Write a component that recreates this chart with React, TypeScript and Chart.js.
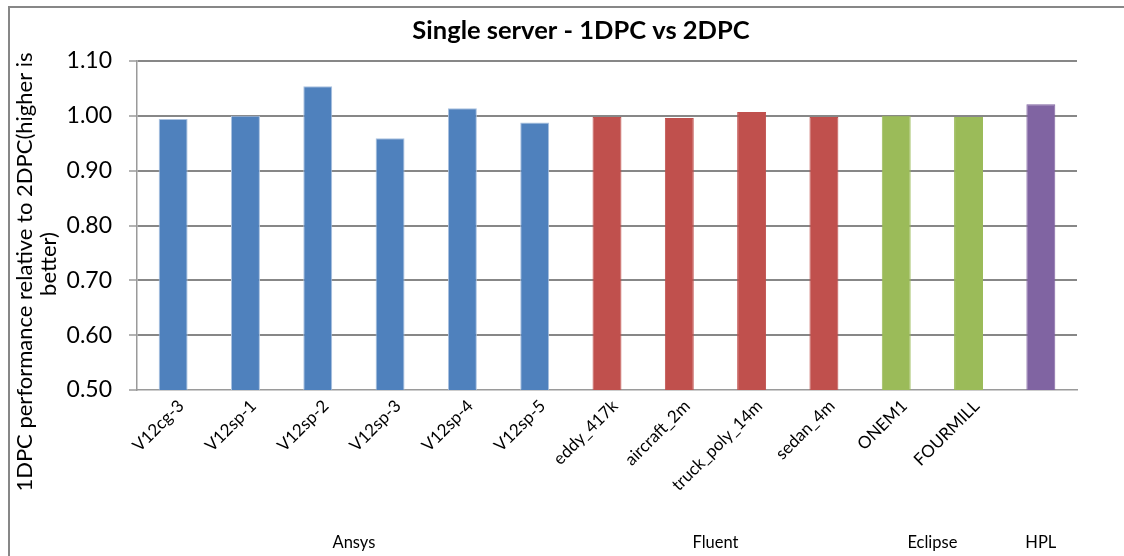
import React, { useEffect, useRef } from "react";
import { Chart, registerables } from "chart.js";

Chart.register(...registerables);

const TITLE = "Single server - 1DPC vs 2DPC";
const Y_TITLE_LINES = ["1DPC performance relative to 2DPC(higher is", "better)"];

const categories = [
  "V12cg-3", "V12sp-1", "V12sp-2", "V12sp-3", "V12sp-4", "V12sp-5",
  "eddy_417k", "aircraft_2m", "truck_poly_14m", "sedan_4m",
  "ONEM1", "FOURMILL",
  "",
];
const values = [
  0.994, 1.0, 1.054, 0.959, 1.014, 0.988,
  0.998, 0.996, 1.007, 0.998,
  1.0, 0.998,
  1.021,
];
const groups = ["Ansys", "Fluent", "Eclipse", "HPL"];
const groupSizes = [6, 4, 2, 1];
const groupColors = ["#4F81BD", "#C0504D", "#9BBB59", "#8064A2"];
const groupBorders = ["#a9c1e0", "#C0504D", "#9BBB59", "#8064A2"];
const yMin = 0.5;
const yMax = 1.1;
const yStep = 0.1;

const FONT = "Lato, 'Noto Sans', sans-serif";

function expand<T>(arr: T[]): T[] {
  const out: T[] = [];
  groupSizes.forEach((n, i) => {
    for (let k = 0; k < n; k++) out.push(arr[i]);
  });
  return out;
}

const decorPlugin = {
  id: "decor",
  beforeDraw(chart: any) {
    const ctx = chart.ctx;
    ctx.save();
    ctx.fillStyle = "#ffffff";
    ctx.fillRect(0, 0, chart.width, chart.height);
    ctx.strokeStyle = "#878787";
    ctx.lineWidth = 2;
    ctx.beginPath();
    ctx.moveTo(9, chart.height);
    ctx.lineTo(9, 7);
    ctx.lineTo(chart.width, 7);
    ctx.stroke();
    ctx.restore();
  },
  afterDraw(chart: any) {
    const ctx = chart.ctx;
    const xs = chart.scales.x;
    ctx.save();
    ctx.fillStyle = "#000";
    ctx.textAlign = "center";
    ctx.textBaseline = "middle";
    ctx.font = `bold 25.5px ${FONT}`;
    ctx.fillText(TITLE, 581, 31);

    ctx.font = `22px ${FONT}`;
    const yCenters = [272, 264];
    const xCenters = [25, 49];
    Y_TITLE_LINES.forEach((line, i) => {
      ctx.save();
      ctx.translate(xCenters[i], yCenters[i]);
      ctx.rotate(-Math.PI / 2);
      ctx.fillText(line, 0, 0);
      ctx.restore();
    });

    ctx.font = `16.5px ${FONT}`;
    let start = 0;
    groups.forEach((g, i) => {
      const end = start + groupSizes[i] - 1;
      const cx = (xs.getPixelForValue(start) + xs.getPixelForValue(end)) / 2;
      ctx.fillText(g, cx, 543);
      start = end + 1;
    });
    ctx.restore();
  },
};

export default function App() {
  const ref = useRef<HTMLCanvasElement>(null);
  useEffect(() => {
    if (!ref.current) return;
    const chart = new Chart(ref.current, {
      type: "bar",
      data: {
        labels: categories,
        datasets: [
          {
            data: values,
            backgroundColor: expand(groupColors),
            borderColor: expand(groupBorders),
            borderWidth: 1,
            barPercentage: 0.4,
            categoryPercentage: 1,
          },
        ],
      },
      plugins: [decorPlugin],
      options: {
        animation: false,
        responsive: false,
        devicePixelRatio: 1,
        layout: { padding: { top: 61, right: 47, left: 0, bottom: 0 } },
        plugins: {
          legend: { display: false },
          title: { display: false },
          tooltip: { enabled: false },
        },
        scales: {
          x: {
            afterFit: (s: any) => {
              s.height = 166;
            },
            grid: { display: false, drawTicks: false },
            border: { display: true, color: "#9a9a9a", width: 1.5 },
            ticks: {
              autoSkip: false,
              maxRotation: 45,
              minRotation: 45,
              padding: 6,
              labelOffset: 8,
              color: "#000",
              font: { family: FONT, size: 17 },
            },
          },
          y: {
            min: yMin,
            max: yMax,
            afterFit: (s: any) => {
              s.width = 137;
            },
            grid: {
              color: (c: any) => (c.tick && Math.abs(c.tick.value - yMin) < 1e-6 ? "rgba(0,0,0,0)" : "#878787"),
              lineWidth: 2,
              drawTicks: true,
              tickLength: 8,
              tickColor: "#9a9a9a",
              tickWidth: 1.5,
            },
            border: { display: true, color: "#9a9a9a", width: 1.5 },
            ticks: {
              stepSize: yStep,
              padding: 17,
              color: "#000",
              font: { family: FONT, size: 23 },
              callback: (v: any) => Number(v).toFixed(2),
            },
          },
        },
      },
    });
    return () => chart.destroy();
  }, []);
  return (
    <div style={{ position: "absolute", left: 0, top: 0, width: 1124, height: 556 }}>
      <canvas ref={ref} width={1124} height={556} style={{ display: "block", width: 1124, height: 556 }} />
    </div>
  );
}
